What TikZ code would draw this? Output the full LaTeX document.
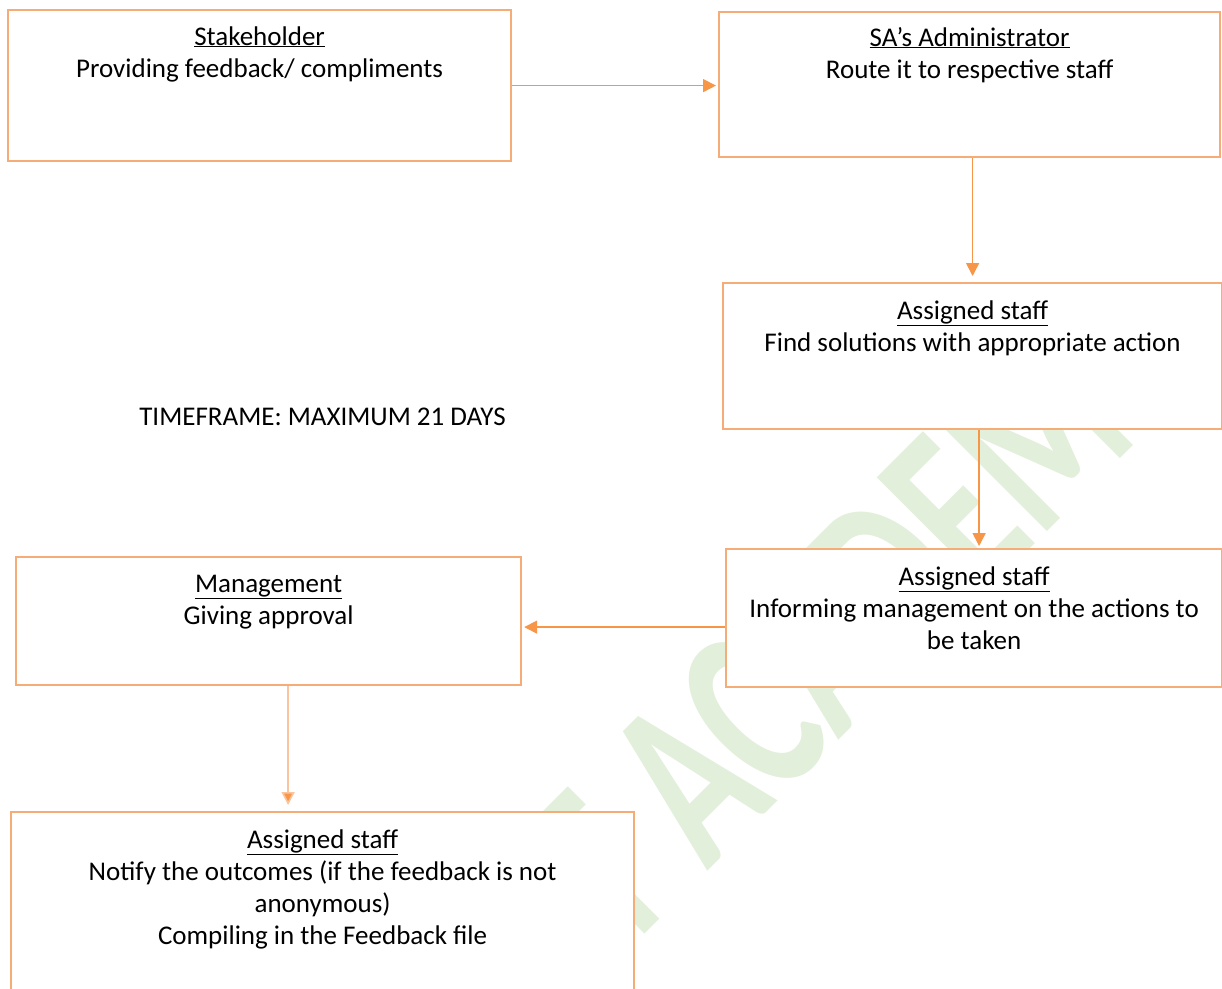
\documentclass[tikz,border=0pt]{standalone}
\usepackage{graphicx}
\usepackage{fontspec}
\setmainfont{Carlito}
\usetikzlibrary{arrows.meta,calc}
\definecolor{boxc}{RGB}{246,172,118}
\definecolor{arrc}{RGB}{247,150,70}
\definecolor{arrl}{RGB}{249,196,158}
\definecolor{wmk}{RGB}{226,239,218}
\begin{document}
\begin{tikzpicture}[x=1pt,y=-1pt,
  procbox/.style={draw=boxc,line width=2.2pt,fill=white,inner sep=0pt,anchor=north west},
  lbl/.style={anchor=base,align=center,inner sep=0pt,font=\fontsize{27}{32}\selectfont,text=black},
  arr/.style={draw=arrc,line width=1.6pt,-{Triangle[length=13pt,width=13pt]}},
  wm/.style={rotate=45,inner sep=0pt,
     font=\fontsize{165}{165}\selectfont\bfseries,text=wmk}]
\useasboundingbox (0,0) rectangle (1222,988);
\fill[white] (0,0) rectangle (1222,988);
% watermark (behind the boxes)
\node[wm,anchor=base east] (wmark0) at (681,898) {\scalebox{1}[1.48]{T}};
\node[wm,anchor=base west] (wmark) at (707,872) {\scalebox{1}[1.48]{ACADEM}};
% boxes
\node[procbox,minimum width=503pt,minimum height=151pt] (b1) at (7,9) {};
\node[procbox,minimum width=501pt,minimum height=145pt] (b2) at (718,11) {};
\node[procbox,minimum width=499pt,minimum height=146pt] (b3) at (722,282) {};
\node[procbox,minimum width=496pt,minimum height=138pt] (b4) at (725,548) {};
\node[procbox,minimum width=505pt,minimum height=128pt] (b5) at (15,556) {};
\node[procbox,minimum width=623pt,minimum height=200pt] (b6) at (10,811) {};
% labels (anchor = baseline of the last line)
\node[lbl] (t1) at ([yshift=-68pt]b1.north) {\underline{Stakeholder}\\Providing feedback/ compliments};
\node[lbl] (t2) at ([yshift=-67pt]b2.north) {\underline{SA’s Administrator}\\Route it to respective staff};
\node[lbl] (t3) at ([yshift=-69pt]b3.north) {\underline{Assigned staff}\\Find solutions with appropriate action};
\node[lbl] (t4) at ([yshift=-101pt]b4.north) {\underline{Assigned staff}\\Informing management on the actions to\\be taken};
\node[lbl] (t5) at ([yshift=-68pt]b5.north) {\underline{Management}\\Giving approval};
\node[lbl] (t6) at ([yshift=-133pt]b6.north) {\underline{Assigned staff}\\Notify the outcomes (if the feedback is not\\anonymous)\\Compiling in the Feedback file};
\node[lbl] (tf) at (322.5,425) {TIMEFRAME: MAXIMUM 21 DAYS};
% connectors
\draw[arr,shorten >=2pt] (b1.east) -- (b1.east -| b2.west);
\draw[arr,shorten >=6pt] (b2.south -| b3.north) -- (b3.north);
\draw[arr,shorten >=2pt] ([xshift=5pt]b4.north |- b3.south) -- ([xshift=5pt]b4.north);
\coordinate (c4) at ([yshift=-9pt]b4.west);
\draw[arr,shorten >=2pt] (c4) -- (c4 -| b5.east);
\coordinate (c5) at ([xshift=19.5pt]b5.south);
\draw[arr,draw=arrl,-{Triangle[length=13pt,width=13pt,fill=arrc]},shorten >=6pt] (c5) -- (c5 |- b6.north);
\end{tikzpicture}
\end{document}
